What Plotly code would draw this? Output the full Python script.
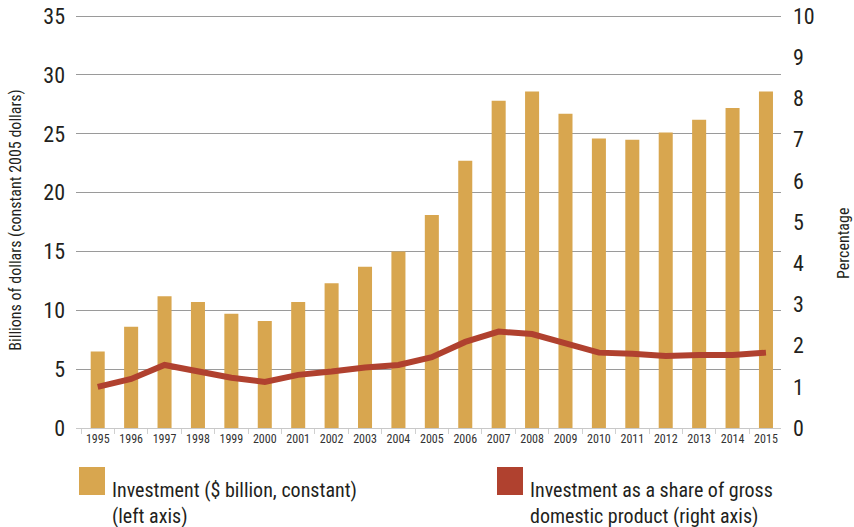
import plotly.graph_objects as go

# Annual data, 1995-2015
years = [str(y) for y in range(1995, 2016)]
investment_bn = [6.5, 8.6, 11.2, 10.7, 9.7, 9.1, 10.7, 12.3, 13.7, 15.0, 18.1,
                 22.7, 27.8, 28.6, 26.7, 24.6, 24.5, 25.1, 26.2, 27.2, 28.6]
share_gdp_pct = [1.00, 1.19, 1.53, 1.37, 1.22, 1.12, 1.29, 1.37, 1.47, 1.53, 1.72,
                 2.09, 2.34, 2.28, 2.06, 1.83, 1.80, 1.75, 1.77, 1.77, 1.83]

left_ticks = [0, 5, 10, 15, 20, 25, 30, 35]
right_ticks = list(range(0, 11))

GOLD = "#D8A64F"
RED = "#B0412F"
FONT = "Liberation Sans Narrow, Roboto Condensed, Arial Narrow, DejaVu Sans Condensed, sans-serif"
TXT = "#231F20"

PLOT_LEFT = 76
PLOT_RIGHT = 781
PLOT_W = PLOT_RIGHT - PLOT_LEFT
PLOT_TOP = 12
PLOT_BOTTOM = 428
PLOT_H = PLOT_BOTTOM - PLOT_TOP


def px(pixel_x):
    return (pixel_x - PLOT_LEFT) / PLOT_W


def py(pixel_y):
    return (PLOT_BOTTOM - pixel_y) / PLOT_H


fig = go.Figure()
fig.add_trace(go.Bar(
    x=years, y=investment_bn, marker=dict(color=GOLD, line=dict(width=0)),
    name="Investment ($ billion, constant) (left axis)", yaxis="y", showlegend=False,
))
fig.add_trace(go.Scatter(
    x=years, y=share_gdp_pct, mode="lines", line=dict(color=RED, width=6),
    name="Investment as a share of gross domestic product (right axis)",
    yaxis="y2", showlegend=False,
))

fig.update_layout(
    width=854, height=527,
    margin=dict(l=PLOT_LEFT, r=854 - PLOT_RIGHT, t=PLOT_TOP, b=527 - PLOT_BOTTOM,
                autoexpand=False),
    paper_bgcolor="white", plot_bgcolor="white",
    font=dict(family=FONT, color=TXT),
    bargap=0.58,
    xaxis=dict(
        type="category", range=[-0.65, 20.45], automargin=False,
        showgrid=False, showline=True, linecolor="#C8C8C8", linewidth=1,
        ticks="outside", tickson="boundaries", ticklen=5, tickcolor="#D0D0D0",
        tickangle=0,
        tickfont=dict(size=12, color="#333333", family=FONT),
        zeroline=False,
    ),
    yaxis=dict(
        range=[0, 35.35], tickvals=left_ticks, showgrid=True, automargin=False,
        gridcolor="#9A9A9A", gridwidth=1, zeroline=False, showline=False,
        ticks="", ticklabelstandoff=10,
        tickfont=dict(size=22, color=TXT, family=FONT),
        title=dict(text="Billions of dollars (constant 2005 dollars)",
                   font=dict(size=16, color=TXT, family=FONT), standoff=17),
    ),
    yaxis2=dict(
        range=[0, 10.1], tickvals=right_ticks, overlaying="y", side="right",
        automargin=False,
        showgrid=False, zeroline=False, showline=False, ticks="",
        ticklabelstandoff=11,
        tickfont=dict(size=22, color=TXT, family=FONT),
    ),
)

# Right-axis title, set a little below the plot's vertical centre
fig.add_annotation(xref="paper", yref="paper", x=px(843), y=py(243),
                   xanchor="center", yanchor="middle", textangle=-90,
                   text="Percentage", showarrow=False,
                   font=dict(size=16, color=TXT, family=FONT))

# Legend drawn beneath the plot: swatches plus two-line labels
legend_items = [
    (GOLD, "Investment ($ billion, constant)<br>(left axis)", 79),
    (RED, "Investment as a share of gross<br>domestic product (right axis)", 497),
]
for color, label, x0 in legend_items:
    fig.add_shape(type="rect", xref="paper", yref="paper",
                  x0=px(x0), x1=px(x0 + 26),
                  y0=py(495), y1=py(467),
                  fillcolor=color, line=dict(width=0), layer="above")
    fig.add_annotation(xref="paper", yref="paper",
                       x=px(x0 + 31), y=py(476),
                       xanchor="left", yanchor="top", align="left",
                       text=label, showarrow=False,
                       font=dict(size=20, color=TXT, family=FONT))

fig.write_html("out.html")
